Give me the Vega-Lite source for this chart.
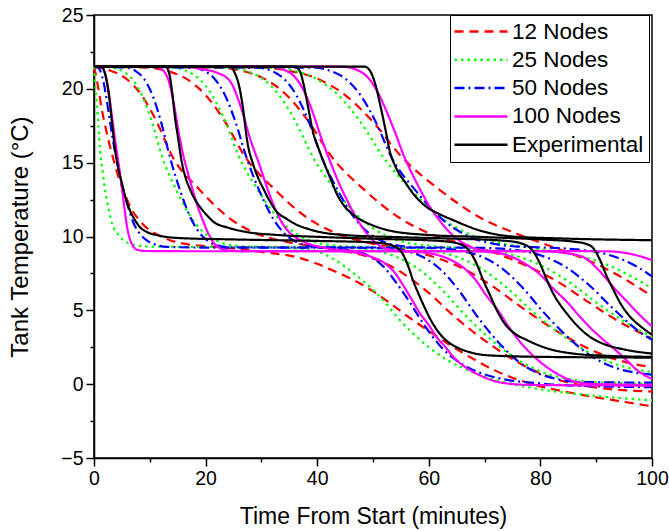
{
"$schema":"https://vega.github.io/schema/vega-lite/v6.json",
"width":558,"height":443,"autosize":{"type":"none"},
"padding":{"left":94,"top":15,"right":17,"bottom":73},
"background":"white",
"config":{"view":{"stroke":"black","strokeWidth":1.5},
"axis":{"labelFont":"Liberation Sans","titleFont":"Liberation Sans","labelColor":"black","titleColor":"black","tickColor":"black","domainColor":"black","domainWidth":1.5,"tickWidth":1.5,"grid":false,"titleFontWeight":"normal"}},
"data":{"values":[
{"n":"12 Nodes","r":0,"t":0,"v":21.5},{"n":"12 Nodes","r":0,"t":0.3,"v":21.0},{"n":"12 Nodes","r":0,"t":0.8,"v":20.0},{"n":"12 Nodes","r":0,"t":1.4,"v":18.6},{"n":"12 Nodes","r":0,"t":2.0,"v":17.5},{"n":"12 Nodes","r":0,"t":2.6,"v":16.5},{"n":"12 Nodes","r":0,"t":3.5,"v":15.2},{"n":"12 Nodes","r":0,"t":4.4,"v":14.0},{"n":"12 Nodes","r":0,"t":5.4,"v":13.0},{"n":"12 Nodes","r":0,"t":6.5,"v":12.0},{"n":"12 Nodes","r":0,"t":7.9,"v":11.2},{"n":"12 Nodes","r":0,"t":9.4,"v":10.6},{"n":"12 Nodes","r":0,"t":11.5,"v":10.1},{"n":"12 Nodes","r":0,"t":13.6,"v":9.75},{"n":"12 Nodes","r":0,"t":17.2,"v":9.45},{"n":"12 Nodes","r":0,"t":22,"v":9.3},{"n":"12 Nodes","r":0,"t":26,"v":9.15},{"n":"12 Nodes","r":0,"t":30,"v":8.95},{"n":"12 Nodes","r":0,"t":35.7,"v":8.65},{"n":"12 Nodes","r":0,"t":40,"v":8.15},{"n":"12 Nodes","r":0,"t":42.8,"v":7.7},{"n":"12 Nodes","r":0,"t":46,"v":7.15},{"n":"12 Nodes","r":0,"t":50,"v":6.3},{"n":"12 Nodes","r":0,"t":53,"v":5.5},{"n":"12 Nodes","r":0,"t":56,"v":4.65},{"n":"12 Nodes","r":0,"t":60,"v":3.6},{"n":"12 Nodes","r":0,"t":64,"v":2.6},{"n":"12 Nodes","r":0,"t":68,"v":1.7},{"n":"12 Nodes","r":0,"t":72,"v":0.9},{"n":"12 Nodes","r":0,"t":76,"v":0.3},{"n":"12 Nodes","r":0,"t":80,"v":-0.15},{"n":"12 Nodes","r":0,"t":85,"v":-0.55},{"n":"12 Nodes","r":0,"t":90,"v":-0.9},{"n":"12 Nodes","r":0,"t":95,"v":-1.2},{"n":"12 Nodes","r":0,"t":100,"v":-1.5},
{"n":"12 Nodes","r":1,"t":0,"v":21.48},{"n":"12 Nodes","r":1,"t":3,"v":21.22},{"n":"12 Nodes","r":1,"t":5.75,"v":20.69},{"n":"12 Nodes","r":1,"t":8.5,"v":19.58},{"n":"12 Nodes","r":1,"t":11.25,"v":17.76},{"n":"12 Nodes","r":1,"t":14,"v":15.45},{"n":"12 Nodes","r":1,"t":19,"v":13.14},{"n":"12 Nodes","r":1,"t":24,"v":11.32},{"n":"12 Nodes","r":1,"t":29,"v":10.21},{"n":"12 Nodes","r":1,"t":34,"v":9.68},{"n":"12 Nodes","r":1,"t":39,"v":9.35},{"n":"12 Nodes","r":1,"t":43,"v":9.1},{"n":"12 Nodes","r":1,"t":48.5,"v":8.7},{"n":"12 Nodes","r":1,"t":54,"v":7.83},{"n":"12 Nodes","r":1,"t":59.5,"v":6.34},{"n":"12 Nodes","r":1,"t":65,"v":4.45},{"n":"12 Nodes","r":1,"t":71.5,"v":2.56},{"n":"12 Nodes","r":1,"t":78,"v":1.07},{"n":"12 Nodes","r":1,"t":84.5,"v":0.16},{"n":"12 Nodes","r":1,"t":91,"v":-0.27},{"n":"12 Nodes","r":1,"t":100,"v":-0.5},
{"n":"12 Nodes","r":2,"t":0,"v":21.5},{"n":"12 Nodes","r":2,"t":9.5,"v":21.43},{"n":"12 Nodes","r":2,"t":13,"v":21.22},{"n":"12 Nodes","r":2,"t":16.5,"v":20.69},{"n":"12 Nodes","r":2,"t":20,"v":19.58},{"n":"12 Nodes","r":2,"t":23.5,"v":17.76},{"n":"12 Nodes","r":2,"t":27,"v":15.45},{"n":"12 Nodes","r":2,"t":32.5,"v":13.14},{"n":"12 Nodes","r":2,"t":38,"v":11.32},{"n":"12 Nodes","r":2,"t":43.5,"v":10.21},{"n":"12 Nodes","r":2,"t":49,"v":9.6},{"n":"12 Nodes","r":2,"t":54.5,"v":9.2},{"n":"12 Nodes","r":2,"t":59,"v":8.82},{"n":"12 Nodes","r":2,"t":65,"v":8.03},{"n":"12 Nodes","r":2,"t":71,"v":6.74},{"n":"12 Nodes","r":2,"t":77,"v":5.1},{"n":"12 Nodes","r":2,"t":83.5,"v":3.46},{"n":"12 Nodes","r":2,"t":90,"v":2.17},{"n":"12 Nodes","r":2,"t":96.5,"v":1.38},{"n":"12 Nodes","r":2,"t":100,"v":1.15},
{"n":"12 Nodes","r":3,"t":0,"v":21.5},{"n":"12 Nodes","r":3,"t":22.5,"v":21.43},{"n":"12 Nodes","r":3,"t":26.5,"v":21.22},{"n":"12 Nodes","r":3,"t":30.5,"v":20.69},{"n":"12 Nodes","r":3,"t":34.5,"v":19.58},{"n":"12 Nodes","r":3,"t":38.5,"v":17.76},{"n":"12 Nodes","r":3,"t":42.5,"v":15.45},{"n":"12 Nodes","r":3,"t":48.5,"v":13.14},{"n":"12 Nodes","r":3,"t":54.5,"v":11.32},{"n":"12 Nodes","r":3,"t":60.5,"v":10.15},{"n":"12 Nodes","r":3,"t":66.5,"v":9.45},{"n":"12 Nodes","r":3,"t":72.5,"v":8.8},{"n":"12 Nodes","r":3,"t":77,"v":8.1},{"n":"12 Nodes","r":3,"t":83,"v":6.96},{"n":"12 Nodes","r":3,"t":89,"v":5.45},{"n":"12 Nodes","r":3,"t":95.5,"v":3.94},{"n":"12 Nodes","r":3,"t":100,"v":3.1},
{"n":"12 Nodes","r":4,"t":0,"v":21.5},{"n":"12 Nodes","r":4,"t":30,"v":21.43},{"n":"12 Nodes","r":4,"t":35,"v":21.22},{"n":"12 Nodes","r":4,"t":40,"v":20.69},{"n":"12 Nodes","r":4,"t":45,"v":19.58},{"n":"12 Nodes","r":4,"t":50,"v":17.76},{"n":"12 Nodes","r":4,"t":55,"v":15.45},{"n":"12 Nodes","r":4,"t":62,"v":13.14},{"n":"12 Nodes","r":4,"t":69,"v":11.32},{"n":"12 Nodes","r":4,"t":76,"v":10.15},{"n":"12 Nodes","r":4,"t":83,"v":9.18},{"n":"12 Nodes","r":4,"t":88,"v":8.47},{"n":"12 Nodes","r":4,"t":92,"v":7.77},{"n":"12 Nodes","r":4,"t":96,"v":6.92},{"n":"12 Nodes","r":4,"t":100,"v":5.95},
{"n":"25 Nodes","r":0,"t":0,"v":21.5},{"n":"25 Nodes","r":0,"t":0.15,"v":20.6},{"n":"25 Nodes","r":0,"t":0.48,"v":19.2},{"n":"25 Nodes","r":0,"t":0.8,"v":17.4},{"n":"25 Nodes","r":0,"t":1.1,"v":15.8},{"n":"25 Nodes","r":0,"t":1.55,"v":14.4},{"n":"25 Nodes","r":0,"t":2.0,"v":13.1},{"n":"25 Nodes","r":0,"t":2.6,"v":11.9},{"n":"25 Nodes","r":0,"t":3.2,"v":10.9},{"n":"25 Nodes","r":0,"t":4.2,"v":10.2},{"n":"25 Nodes","r":0,"t":5.26,"v":9.75},{"n":"25 Nodes","r":0,"t":7.6,"v":9.4},{"n":"25 Nodes","r":0,"t":10,"v":9.32},{"n":"25 Nodes","r":0,"t":20,"v":9.3},{"n":"25 Nodes","r":0,"t":30,"v":9.28},{"n":"25 Nodes","r":0,"t":36,"v":9.2},{"n":"25 Nodes","r":0,"t":39.9,"v":9.0},{"n":"25 Nodes","r":0,"t":42.8,"v":8.5},{"n":"25 Nodes","r":0,"t":45.9,"v":7.7},{"n":"25 Nodes","r":0,"t":48.8,"v":6.8},{"n":"25 Nodes","r":0,"t":51.8,"v":5.7},{"n":"25 Nodes","r":0,"t":54.2,"v":4.6},{"n":"25 Nodes","r":0,"t":57,"v":3.5},{"n":"25 Nodes","r":0,"t":60,"v":2.5},{"n":"25 Nodes","r":0,"t":63,"v":1.7},{"n":"25 Nodes","r":0,"t":66,"v":1.1},{"n":"25 Nodes","r":0,"t":70,"v":0.5},{"n":"25 Nodes","r":0,"t":75,"v":0.0},{"n":"25 Nodes","r":0,"t":80,"v":-0.35},{"n":"25 Nodes","r":0,"t":90,"v":-0.8},{"n":"25 Nodes","r":0,"t":100,"v":-1.1},
{"n":"25 Nodes","r":1,"t":0,"v":21.5},{"n":"25 Nodes","r":1,"t":3.2,"v":21.43},{"n":"25 Nodes","r":1,"t":5.0,"v":21.22},{"n":"25 Nodes","r":1,"t":6.8,"v":20.68},{"n":"25 Nodes","r":1,"t":8.6,"v":19.56},{"n":"25 Nodes","r":1,"t":10.4,"v":17.73},{"n":"25 Nodes","r":1,"t":12.2,"v":15.4},{"n":"25 Nodes","r":1,"t":14.85,"v":13.07},{"n":"25 Nodes","r":1,"t":17.5,"v":11.24},{"n":"25 Nodes","r":1,"t":20.15,"v":10.12},{"n":"25 Nodes","r":1,"t":22.8,"v":9.58},{"n":"25 Nodes","r":1,"t":25.45,"v":9.37},{"n":"25 Nodes","r":1,"t":28.1,"v":9.31},{"n":"25 Nodes","r":1,"t":40,"v":9.3},{"n":"25 Nodes","r":1,"t":45.25,"v":9.24},{"n":"25 Nodes","r":1,"t":49.5,"v":9.09},{"n":"25 Nodes","r":1,"t":53.75,"v":8.68},{"n":"25 Nodes","r":1,"t":58,"v":7.83},{"n":"25 Nodes","r":1,"t":62.25,"v":6.44},{"n":"25 Nodes","r":1,"t":66.5,"v":4.68},{"n":"25 Nodes","r":1,"t":71.5,"v":2.91},{"n":"25 Nodes","r":1,"t":76.5,"v":1.52},{"n":"25 Nodes","r":1,"t":81.5,"v":0.67},{"n":"25 Nodes","r":1,"t":86.5,"v":0.26},{"n":"25 Nodes","r":1,"t":91.5,"v":0.11},{"n":"25 Nodes","r":1,"t":100,"v":0.05},
{"n":"25 Nodes","r":2,"t":0,"v":21.5},{"n":"25 Nodes","r":2,"t":14,"v":21.43},{"n":"25 Nodes","r":2,"t":16.4,"v":21.22},{"n":"25 Nodes","r":2,"t":18.8,"v":20.68},{"n":"25 Nodes","r":2,"t":21.2,"v":19.56},{"n":"25 Nodes","r":2,"t":23.6,"v":17.73},{"n":"25 Nodes","r":2,"t":26,"v":15.4},{"n":"25 Nodes","r":2,"t":29.5,"v":13.07},{"n":"25 Nodes","r":2,"t":33,"v":11.24},{"n":"25 Nodes","r":2,"t":36.5,"v":10.12},{"n":"25 Nodes","r":2,"t":40,"v":9.58},{"n":"25 Nodes","r":2,"t":43.5,"v":9.37},{"n":"25 Nodes","r":2,"t":47,"v":9.31},{"n":"25 Nodes","r":2,"t":54.75,"v":9.25},{"n":"25 Nodes","r":2,"t":59.5,"v":9.1},{"n":"25 Nodes","r":2,"t":64.25,"v":8.72},{"n":"25 Nodes","r":2,"t":69,"v":7.92},{"n":"25 Nodes","r":2,"t":73.75,"v":6.61},{"n":"25 Nodes","r":2,"t":78.5,"v":4.95},{"n":"25 Nodes","r":2,"t":84,"v":3.29},{"n":"25 Nodes","r":2,"t":89.5,"v":1.98},{"n":"25 Nodes","r":2,"t":95,"v":1.18},{"n":"25 Nodes","r":2,"t":100,"v":0.82},
{"n":"25 Nodes","r":3,"t":0,"v":21.5},{"n":"25 Nodes","r":3,"t":24.2,"v":21.43},{"n":"25 Nodes","r":3,"t":27.2,"v":21.22},{"n":"25 Nodes","r":3,"t":30.2,"v":20.68},{"n":"25 Nodes","r":3,"t":33.2,"v":19.56},{"n":"25 Nodes","r":3,"t":36.2,"v":17.73},{"n":"25 Nodes","r":3,"t":39.2,"v":15.4},{"n":"25 Nodes","r":3,"t":43.45,"v":13.07},{"n":"25 Nodes","r":3,"t":47.7,"v":11.24},{"n":"25 Nodes","r":3,"t":51.95,"v":10.12},{"n":"25 Nodes","r":3,"t":56.2,"v":9.58},{"n":"25 Nodes","r":3,"t":60.45,"v":9.37},{"n":"25 Nodes","r":3,"t":64.5,"v":9.25},{"n":"25 Nodes","r":3,"t":69.5,"v":9.1},{"n":"25 Nodes","r":3,"t":74.75,"v":8.78},{"n":"25 Nodes","r":3,"t":80,"v":8.06},{"n":"25 Nodes","r":3,"t":85.25,"v":6.89},{"n":"25 Nodes","r":3,"t":90.5,"v":5.4},{"n":"25 Nodes","r":3,"t":96.5,"v":3.91},{"n":"25 Nodes","r":3,"t":100,"v":3.18},
{"n":"25 Nodes","r":4,"t":0,"v":21.5},{"n":"25 Nodes","r":4,"t":31.8,"v":21.43},{"n":"25 Nodes","r":4,"t":35.8,"v":21.22},{"n":"25 Nodes","r":4,"t":39.8,"v":20.68},{"n":"25 Nodes","r":4,"t":43.8,"v":19.56},{"n":"25 Nodes","r":4,"t":47.8,"v":17.73},{"n":"25 Nodes","r":4,"t":51.8,"v":15.4},{"n":"25 Nodes","r":4,"t":57.05,"v":13.07},{"n":"25 Nodes","r":4,"t":62.3,"v":11.24},{"n":"25 Nodes","r":4,"t":67.55,"v":10.12},{"n":"25 Nodes","r":4,"t":72.8,"v":9.55},{"n":"25 Nodes","r":4,"t":78.05,"v":9.24},{"n":"25 Nodes","r":4,"t":83.3,"v":8.96},{"n":"25 Nodes","r":4,"t":88,"v":8.59},{"n":"25 Nodes","r":4,"t":92,"v":8.08},{"n":"25 Nodes","r":4,"t":96,"v":7.36},{"n":"25 Nodes","r":4,"t":100,"v":6.49},
{"n":"50 Nodes","r":0,"t":0,"v":21.5},{"n":"50 Nodes","r":0,"t":0.8,"v":21.4},{"n":"50 Nodes","r":0,"t":1.5,"v":20.8},{"n":"50 Nodes","r":0,"t":2.3,"v":19.2},{"n":"50 Nodes","r":0,"t":2.9,"v":17.7},{"n":"50 Nodes","r":0,"t":3.5,"v":16.3},{"n":"50 Nodes","r":0,"t":4.4,"v":14.6},{"n":"50 Nodes","r":0,"t":5.26,"v":13.1},{"n":"50 Nodes","r":0,"t":6.2,"v":11.9},{"n":"50 Nodes","r":0,"t":7.1,"v":10.9},{"n":"50 Nodes","r":0,"t":8.2,"v":10.2},{"n":"50 Nodes","r":0,"t":9.4,"v":9.75},{"n":"50 Nodes","r":0,"t":11,"v":9.45},{"n":"50 Nodes","r":0,"t":13,"v":9.3},{"n":"50 Nodes","r":0,"t":20,"v":9.25},{"n":"50 Nodes","r":0,"t":40,"v":9.25},{"n":"50 Nodes","r":0,"t":44,"v":9.15},{"n":"50 Nodes","r":0,"t":48.3,"v":8.85},{"n":"50 Nodes","r":0,"t":51.9,"v":7.95},{"n":"50 Nodes","r":0,"t":54.3,"v":6.8},{"n":"50 Nodes","r":0,"t":56.5,"v":5.6},{"n":"50 Nodes","r":0,"t":58.5,"v":4.4},{"n":"50 Nodes","r":0,"t":60.5,"v":3.3},{"n":"50 Nodes","r":0,"t":62.5,"v":2.4},{"n":"50 Nodes","r":0,"t":65,"v":1.6},{"n":"50 Nodes","r":0,"t":68,"v":0.95},{"n":"50 Nodes","r":0,"t":72,"v":0.45},{"n":"50 Nodes","r":0,"t":80,"v":0.05},{"n":"50 Nodes","r":0,"t":90,"v":-0.15},{"n":"50 Nodes","r":0,"t":100,"v":-0.2},
{"n":"50 Nodes","r":1,"t":0,"v":21.5},{"n":"50 Nodes","r":1,"t":5.85,"v":21.43},{"n":"50 Nodes","r":1,"t":7.4,"v":21.22},{"n":"50 Nodes","r":1,"t":8.95,"v":20.68},{"n":"50 Nodes","r":1,"t":10.5,"v":19.55},{"n":"50 Nodes","r":1,"t":12.05,"v":17.71},{"n":"50 Nodes","r":1,"t":13.6,"v":15.38},{"n":"50 Nodes","r":1,"t":15.5,"v":13.04},{"n":"50 Nodes","r":1,"t":17.4,"v":11.2},{"n":"50 Nodes","r":1,"t":19.3,"v":10.07},{"n":"50 Nodes","r":1,"t":21.2,"v":9.53},{"n":"50 Nodes","r":1,"t":23.1,"v":9.32},{"n":"50 Nodes","r":1,"t":25,"v":9.26},{"n":"50 Nodes","r":1,"t":45,"v":9.25},{"n":"50 Nodes","r":1,"t":52.25,"v":9.2},{"n":"50 Nodes","r":1,"t":55.5,"v":9.04},{"n":"50 Nodes","r":1,"t":58.75,"v":8.64},{"n":"50 Nodes","r":1,"t":62,"v":7.8},{"n":"50 Nodes","r":1,"t":65.25,"v":6.42},{"n":"50 Nodes","r":1,"t":68.5,"v":4.68},{"n":"50 Nodes","r":1,"t":72.25,"v":2.93},{"n":"50 Nodes","r":1,"t":76,"v":1.55},{"n":"50 Nodes","r":1,"t":79.75,"v":0.71},{"n":"50 Nodes","r":1,"t":83.5,"v":0.31},{"n":"50 Nodes","r":1,"t":87.25,"v":0.15},{"n":"50 Nodes","r":1,"t":100,"v":0.1},
{"n":"50 Nodes","r":2,"t":0,"v":21.5},{"n":"50 Nodes","r":2,"t":17.8,"v":21.43},{"n":"50 Nodes","r":2,"t":19.7,"v":21.22},{"n":"50 Nodes","r":2,"t":21.6,"v":20.68},{"n":"50 Nodes","r":2,"t":23.5,"v":19.55},{"n":"50 Nodes","r":2,"t":25.4,"v":17.71},{"n":"50 Nodes","r":2,"t":27.3,"v":15.38},{"n":"50 Nodes","r":2,"t":29.7,"v":13.04},{"n":"50 Nodes","r":2,"t":32.1,"v":11.2},{"n":"50 Nodes","r":2,"t":34.5,"v":10.07},{"n":"50 Nodes","r":2,"t":36.9,"v":9.53},{"n":"50 Nodes","r":2,"t":39.3,"v":9.32},{"n":"50 Nodes","r":2,"t":41.7,"v":9.26},{"n":"50 Nodes","r":2,"t":55,"v":9.25},{"n":"50 Nodes","r":2,"t":61.75,"v":9.2},{"n":"50 Nodes","r":2,"t":65.5,"v":9.05},{"n":"50 Nodes","r":2,"t":69.25,"v":8.67},{"n":"50 Nodes","r":2,"t":73,"v":7.87},{"n":"50 Nodes","r":2,"t":76.75,"v":6.56},{"n":"50 Nodes","r":2,"t":80.5,"v":4.9},{"n":"50 Nodes","r":2,"t":84.75,"v":3.24},{"n":"50 Nodes","r":2,"t":89,"v":1.93},{"n":"50 Nodes","r":2,"t":93.25,"v":1.13},{"n":"50 Nodes","r":2,"t":97.5,"v":0.75},{"n":"50 Nodes","r":2,"t":100,"v":0.65},
{"n":"50 Nodes","r":3,"t":0,"v":21.5},{"n":"50 Nodes","r":3,"t":29.55,"v":21.43},{"n":"50 Nodes","r":3,"t":31.8,"v":21.22},{"n":"50 Nodes","r":3,"t":34.05,"v":20.68},{"n":"50 Nodes","r":3,"t":36.3,"v":19.55},{"n":"50 Nodes","r":3,"t":38.55,"v":17.71},{"n":"50 Nodes","r":3,"t":40.8,"v":15.38},{"n":"50 Nodes","r":3,"t":43.8,"v":13.04},{"n":"50 Nodes","r":3,"t":46.8,"v":11.2},{"n":"50 Nodes","r":3,"t":49.8,"v":10.07},{"n":"50 Nodes","r":3,"t":52.8,"v":9.53},{"n":"50 Nodes","r":3,"t":55.8,"v":9.32},{"n":"50 Nodes","r":3,"t":58.8,"v":9.26},{"n":"50 Nodes","r":3,"t":66,"v":9.25},{"n":"50 Nodes","r":3,"t":71.75,"v":9.2},{"n":"50 Nodes","r":3,"t":76,"v":9.06},{"n":"50 Nodes","r":3,"t":80.25,"v":8.7},{"n":"50 Nodes","r":3,"t":84.5,"v":7.94},{"n":"50 Nodes","r":3,"t":88.75,"v":6.7},{"n":"50 Nodes","r":3,"t":93,"v":5.13},{"n":"50 Nodes","r":3,"t":97.75,"v":3.55},{"n":"50 Nodes","r":3,"t":100,"v":3.0},
{"n":"50 Nodes","r":4,"t":0,"v":21.5},{"n":"50 Nodes","r":4,"t":39.55,"v":21.43},{"n":"50 Nodes","r":4,"t":42.3,"v":21.22},{"n":"50 Nodes","r":4,"t":45.05,"v":20.68},{"n":"50 Nodes","r":4,"t":47.8,"v":19.55},{"n":"50 Nodes","r":4,"t":50.55,"v":17.71},{"n":"50 Nodes","r":4,"t":53.3,"v":15.38},{"n":"50 Nodes","r":4,"t":57.8,"v":13.04},{"n":"50 Nodes","r":4,"t":62.3,"v":11.2},{"n":"50 Nodes","r":4,"t":66.8,"v":10.07},{"n":"50 Nodes","r":4,"t":71.3,"v":9.53},{"n":"50 Nodes","r":4,"t":75.8,"v":9.32},{"n":"50 Nodes","r":4,"t":80.3,"v":9.26},{"n":"50 Nodes","r":4,"t":85,"v":9.17},{"n":"50 Nodes","r":4,"t":90,"v":8.96},{"n":"50 Nodes","r":4,"t":94,"v":8.54},{"n":"50 Nodes","r":4,"t":97,"v":8.02},{"n":"50 Nodes","r":4,"t":100,"v":7.3},
{"n":"100 Nodes","r":0,"t":0,"v":21.5},{"n":"100 Nodes","r":0,"t":1.3,"v":21.5},{"n":"100 Nodes","r":0,"t":2.0,"v":21.0},{"n":"100 Nodes","r":0,"t":2.7,"v":19.6},{"n":"100 Nodes","r":0,"t":3.4,"v":17.6},{"n":"100 Nodes","r":0,"t":4.06,"v":15.8},{"n":"100 Nodes","r":0,"t":4.5,"v":14.7},{"n":"100 Nodes","r":0,"t":5.0,"v":13.3},{"n":"100 Nodes","r":0,"t":5.56,"v":11.6},{"n":"100 Nodes","r":0,"t":6.0,"v":10.5},{"n":"100 Nodes","r":0,"t":6.5,"v":9.75},{"n":"100 Nodes","r":0,"t":7.0,"v":9.35},{"n":"100 Nodes","r":0,"t":7.6,"v":9.12},{"n":"100 Nodes","r":0,"t":9,"v":9.02},{"n":"100 Nodes","r":0,"t":20,"v":9.0},{"n":"100 Nodes","r":0,"t":44,"v":9.0},{"n":"100 Nodes","r":0,"t":47,"v":8.9},{"n":"100 Nodes","r":0,"t":49.5,"v":8.65},{"n":"100 Nodes","r":0,"t":52.4,"v":8.1},{"n":"100 Nodes","r":0,"t":54,"v":7.5},{"n":"100 Nodes","r":0,"t":55.4,"v":6.7},{"n":"100 Nodes","r":0,"t":57,"v":5.7},{"n":"100 Nodes","r":0,"t":58.4,"v":4.8},{"n":"100 Nodes","r":0,"t":60,"v":4.0},{"n":"100 Nodes","r":0,"t":61.4,"v":3.2},{"n":"100 Nodes","r":0,"t":63,"v":2.5},{"n":"100 Nodes","r":0,"t":64.4,"v":1.85},{"n":"100 Nodes","r":0,"t":66,"v":1.3},{"n":"100 Nodes","r":0,"t":67.4,"v":0.95},{"n":"100 Nodes","r":0,"t":70,"v":0.45},{"n":"100 Nodes","r":0,"t":73.4,"v":0.08},{"n":"100 Nodes","r":0,"t":78,"v":-0.05},{"n":"100 Nodes","r":0,"t":100,"v":-0.1},
{"n":"100 Nodes","r":1,"t":0,"v":21.5},{"n":"100 Nodes","r":1,"t":11,"v":21.5},{"n":"100 Nodes","r":1,"t":12.5,"v":21.2},{"n":"100 Nodes","r":1,"t":13.5,"v":20.4},{"n":"100 Nodes","r":1,"t":14.4,"v":18.8},{"n":"100 Nodes","r":1,"t":15.2,"v":17.0},{"n":"100 Nodes","r":1,"t":16.0,"v":15.5},{"n":"100 Nodes","r":1,"t":16.9,"v":14.2},{"n":"100 Nodes","r":1,"t":17.8,"v":13.0},{"n":"100 Nodes","r":1,"t":18.7,"v":11.9},{"n":"100 Nodes","r":1,"t":19.6,"v":11.0},{"n":"100 Nodes","r":1,"t":20.5,"v":10.2},{"n":"100 Nodes","r":1,"t":21.4,"v":9.6},{"n":"100 Nodes","r":1,"t":22.4,"v":9.25},{"n":"100 Nodes","r":1,"t":23.6,"v":9.08},{"n":"100 Nodes","r":1,"t":25.5,"v":9.01},{"n":"100 Nodes","r":1,"t":30,"v":9.0},{"n":"100 Nodes","r":1,"t":54,"v":9.0},{"n":"100 Nodes","r":1,"t":58,"v":8.95},{"n":"100 Nodes","r":1,"t":61,"v":8.8},{"n":"100 Nodes","r":1,"t":64,"v":8.4},{"n":"100 Nodes","r":1,"t":66.5,"v":7.8},{"n":"100 Nodes","r":1,"t":68.5,"v":7.0},{"n":"100 Nodes","r":1,"t":70.3,"v":6.0},{"n":"100 Nodes","r":1,"t":72.2,"v":5.1},{"n":"100 Nodes","r":1,"t":74.3,"v":3.9},{"n":"100 Nodes","r":1,"t":76.5,"v":2.8},{"n":"100 Nodes","r":1,"t":78.5,"v":2.0},{"n":"100 Nodes","r":1,"t":81,"v":1.2},{"n":"100 Nodes","r":1,"t":83.5,"v":0.6},{"n":"100 Nodes","r":1,"t":86,"v":0.2},{"n":"100 Nodes","r":1,"t":90,"v":0.0},{"n":"100 Nodes","r":1,"t":100,"v":-0.05},
{"n":"100 Nodes","r":2,"t":0,"v":21.5},{"n":"100 Nodes","r":2,"t":17,"v":21.5},{"n":"100 Nodes","r":2,"t":19,"v":21.35},{"n":"100 Nodes","r":2,"t":22,"v":21.1},{"n":"100 Nodes","r":2,"t":24.4,"v":20.5},{"n":"100 Nodes","r":2,"t":26.2,"v":18.9},{"n":"100 Nodes","r":2,"t":28.0,"v":16.6},{"n":"100 Nodes","r":2,"t":29.7,"v":14.8},{"n":"100 Nodes","r":2,"t":31.5,"v":12.8},{"n":"100 Nodes","r":2,"t":33.3,"v":11.2},{"n":"100 Nodes","r":2,"t":34.5,"v":10.5},{"n":"100 Nodes","r":2,"t":35.7,"v":10.05},{"n":"100 Nodes","r":2,"t":37,"v":9.75},{"n":"100 Nodes","r":2,"t":38.5,"v":9.5},{"n":"100 Nodes","r":2,"t":40.5,"v":9.3},{"n":"100 Nodes","r":2,"t":43,"v":9.12},{"n":"100 Nodes","r":2,"t":46,"v":9.04},{"n":"100 Nodes","r":2,"t":50,"v":9.0},{"n":"100 Nodes","r":2,"t":68,"v":9.0},{"n":"100 Nodes","r":2,"t":72,"v":8.9},{"n":"100 Nodes","r":2,"t":75,"v":8.6},{"n":"100 Nodes","r":2,"t":77.5,"v":8.1},{"n":"100 Nodes","r":2,"t":80,"v":7.4},{"n":"100 Nodes","r":2,"t":82.5,"v":6.4},{"n":"100 Nodes","r":2,"t":84.7,"v":5.6},{"n":"100 Nodes","r":2,"t":87,"v":4.6},{"n":"100 Nodes","r":2,"t":89,"v":3.8},{"n":"100 Nodes","r":2,"t":91,"v":3.1},{"n":"100 Nodes","r":2,"t":93.2,"v":2.4},{"n":"100 Nodes","r":2,"t":95.5,"v":1.6},{"n":"100 Nodes","r":2,"t":97.5,"v":0.9},{"n":"100 Nodes","r":2,"t":100,"v":0.35},
{"n":"100 Nodes","r":3,"t":0,"v":21.5},{"n":"100 Nodes","r":3,"t":32,"v":21.5},{"n":"100 Nodes","r":3,"t":34,"v":21.3},{"n":"100 Nodes","r":3,"t":36,"v":20.8},{"n":"100 Nodes","r":3,"t":37.7,"v":19.8},{"n":"100 Nodes","r":3,"t":39.3,"v":18.3},{"n":"100 Nodes","r":3,"t":40.8,"v":16.6},{"n":"100 Nodes","r":3,"t":42.3,"v":15.1},{"n":"100 Nodes","r":3,"t":43.8,"v":13.7},{"n":"100 Nodes","r":3,"t":45.3,"v":12.5},{"n":"100 Nodes","r":3,"t":46.8,"v":11.4},{"n":"100 Nodes","r":3,"t":48.3,"v":10.5},{"n":"100 Nodes","r":3,"t":49.8,"v":9.8},{"n":"100 Nodes","r":3,"t":51.3,"v":9.35},{"n":"100 Nodes","r":3,"t":53,"v":9.12},{"n":"100 Nodes","r":3,"t":55,"v":9.03},{"n":"100 Nodes","r":3,"t":58,"v":9.0},{"n":"100 Nodes","r":3,"t":80,"v":9.0},{"n":"100 Nodes","r":3,"t":84,"v":8.9},{"n":"100 Nodes","r":3,"t":87.7,"v":8.6},{"n":"100 Nodes","r":3,"t":90,"v":7.9},{"n":"100 Nodes","r":3,"t":91.9,"v":7.1},{"n":"100 Nodes","r":3,"t":93.5,"v":6.4},{"n":"100 Nodes","r":3,"t":95.5,"v":5.6},{"n":"100 Nodes","r":3,"t":97.5,"v":4.8},{"n":"100 Nodes","r":3,"t":100,"v":3.9},
{"n":"100 Nodes","r":4,"t":0,"v":21.5},{"n":"100 Nodes","r":4,"t":44.5,"v":21.5},{"n":"100 Nodes","r":4,"t":47,"v":21.3},{"n":"100 Nodes","r":4,"t":49,"v":20.8},{"n":"100 Nodes","r":4,"t":50.8,"v":19.8},{"n":"100 Nodes","r":4,"t":52.4,"v":18.5},{"n":"100 Nodes","r":4,"t":54,"v":17.0},{"n":"100 Nodes","r":4,"t":55.6,"v":15.4},{"n":"100 Nodes","r":4,"t":57.2,"v":14.1},{"n":"100 Nodes","r":4,"t":58.7,"v":13.0},{"n":"100 Nodes","r":4,"t":60.2,"v":12.0},{"n":"100 Nodes","r":4,"t":61.7,"v":11.2},{"n":"100 Nodes","r":4,"t":63.2,"v":10.5},{"n":"100 Nodes","r":4,"t":64.7,"v":9.95},{"n":"100 Nodes","r":4,"t":66.2,"v":9.55},{"n":"100 Nodes","r":4,"t":68,"v":9.22},{"n":"100 Nodes","r":4,"t":70,"v":9.07},{"n":"100 Nodes","r":4,"t":73,"v":9.01},{"n":"100 Nodes","r":4,"t":92,"v":9.0},{"n":"100 Nodes","r":4,"t":95,"v":8.9},{"n":"100 Nodes","r":4,"t":97.5,"v":8.7},{"n":"100 Nodes","r":4,"t":100,"v":8.4},
{"n":"Experimental","r":0,"t":0,"v":21.5},{"n":"Experimental","r":0,"t":1.3,"v":21.5},{"n":"Experimental","r":0,"t":2.0,"v":21.0},{"n":"Experimental","r":0,"t":2.6,"v":19.8},{"n":"Experimental","r":0,"t":3.2,"v":17.8},{"n":"Experimental","r":0,"t":3.8,"v":15.8},{"n":"Experimental","r":0,"t":4.3,"v":14.7},{"n":"Experimental","r":0,"t":5.0,"v":13.6},{"n":"Experimental","r":0,"t":5.6,"v":12.7},{"n":"Experimental","r":0,"t":6.4,"v":11.8},{"n":"Experimental","r":0,"t":7.2,"v":11.2},{"n":"Experimental","r":0,"t":8.2,"v":10.65},{"n":"Experimental","r":0,"t":9.5,"v":10.3},{"n":"Experimental","r":0,"t":11.2,"v":10.1},{"n":"Experimental","r":0,"t":15,"v":9.9},{"n":"Experimental","r":0,"t":25,"v":9.8},{"n":"Experimental","r":0,"t":40,"v":9.7},{"n":"Experimental","r":0,"t":50,"v":9.6},{"n":"Experimental","r":0,"t":53,"v":9.45},{"n":"Experimental","r":0,"t":55,"v":9.0},{"n":"Experimental","r":0,"t":56.3,"v":8.0},{"n":"Experimental","r":0,"t":57.2,"v":7.0},{"n":"Experimental","r":0,"t":58.3,"v":6.0},{"n":"Experimental","r":0,"t":59,"v":5.4},{"n":"Experimental","r":0,"t":60,"v":4.6},{"n":"Experimental","r":0,"t":61.4,"v":3.7},{"n":"Experimental","r":0,"t":63,"v":3.0},{"n":"Experimental","r":0,"t":65,"v":2.5},{"n":"Experimental","r":0,"t":67.5,"v":2.15},{"n":"Experimental","r":0,"t":70.4,"v":1.96},{"n":"Experimental","r":0,"t":80,"v":1.85},{"n":"Experimental","r":0,"t":100,"v":1.8},
{"n":"Experimental","r":1,"t":0,"v":21.5},{"n":"Experimental","r":1,"t":12.8,"v":21.5},{"n":"Experimental","r":1,"t":13.5,"v":21.0},{"n":"Experimental","r":1,"t":14.0,"v":19.8},{"n":"Experimental","r":1,"t":14.5,"v":18.1},{"n":"Experimental","r":1,"t":15.1,"v":16.6},{"n":"Experimental","r":1,"t":15.7,"v":15.1},{"n":"Experimental","r":1,"t":16.4,"v":14.0},{"n":"Experimental","r":1,"t":17.2,"v":13.2},{"n":"Experimental","r":1,"t":18.1,"v":12.5},{"n":"Experimental","r":1,"t":19,"v":12.0},{"n":"Experimental","r":1,"t":20.2,"v":11.45},{"n":"Experimental","r":1,"t":21.4,"v":11.0},{"n":"Experimental","r":1,"t":24,"v":10.6},{"n":"Experimental","r":1,"t":27.4,"v":10.3},{"n":"Experimental","r":1,"t":33,"v":10.1},{"n":"Experimental","r":1,"t":40.5,"v":9.97},{"n":"Experimental","r":1,"t":50,"v":9.85},{"n":"Experimental","r":1,"t":62,"v":9.7},{"n":"Experimental","r":1,"t":65.5,"v":9.5},{"n":"Experimental","r":1,"t":67.1,"v":9.1},{"n":"Experimental","r":1,"t":68.4,"v":8.3},{"n":"Experimental","r":1,"t":69.8,"v":7.0},{"n":"Experimental","r":1,"t":71,"v":6.0},{"n":"Experimental","r":1,"t":72.2,"v":5.0},{"n":"Experimental","r":1,"t":73.6,"v":4.1},{"n":"Experimental","r":1,"t":75.5,"v":3.4},{"n":"Experimental","r":1,"t":77.5,"v":3.0},{"n":"Experimental","r":1,"t":81,"v":2.45},{"n":"Experimental","r":1,"t":85.9,"v":2.07},{"n":"Experimental","r":1,"t":92,"v":1.92},{"n":"Experimental","r":1,"t":100,"v":1.85},
{"n":"Experimental","r":2,"t":0,"v":21.5},{"n":"Experimental","r":2,"t":24.4,"v":21.5},{"n":"Experimental","r":2,"t":25.2,"v":21.1},{"n":"Experimental","r":2,"t":26,"v":20.2},{"n":"Experimental","r":2,"t":26.7,"v":18.7},{"n":"Experimental","r":2,"t":27.4,"v":16.6},{"n":"Experimental","r":2,"t":28.6,"v":14.8},{"n":"Experimental","r":2,"t":29.5,"v":13.9},{"n":"Experimental","r":2,"t":30.4,"v":13.2},{"n":"Experimental","r":2,"t":31.5,"v":12.4},{"n":"Experimental","r":2,"t":32.7,"v":11.7},{"n":"Experimental","r":2,"t":34.5,"v":11.2},{"n":"Experimental","r":2,"t":36.3,"v":10.8},{"n":"Experimental","r":2,"t":38.5,"v":10.5},{"n":"Experimental","r":2,"t":40.5,"v":10.3},{"n":"Experimental","r":2,"t":45,"v":10.1},{"n":"Experimental","r":2,"t":55,"v":9.95},{"n":"Experimental","r":2,"t":65,"v":9.85},{"n":"Experimental","r":2,"t":74,"v":9.7},{"n":"Experimental","r":2,"t":77.2,"v":9.45},{"n":"Experimental","r":2,"t":78.7,"v":9.0},{"n":"Experimental","r":2,"t":80,"v":8.1},{"n":"Experimental","r":2,"t":81,"v":7.2},{"n":"Experimental","r":2,"t":81.7,"v":6.6},{"n":"Experimental","r":2,"t":82.5,"v":6.0},{"n":"Experimental","r":2,"t":83.5,"v":5.4},{"n":"Experimental","r":2,"t":84.7,"v":4.8},{"n":"Experimental","r":2,"t":86.5,"v":4.0},{"n":"Experimental","r":2,"t":88.9,"v":3.2},{"n":"Experimental","r":2,"t":91.5,"v":2.7},{"n":"Experimental","r":2,"t":95,"v":2.35},{"n":"Experimental","r":2,"t":100,"v":2.07},
{"n":"Experimental","r":3,"t":0,"v":21.5},{"n":"Experimental","r":3,"t":36,"v":21.5},{"n":"Experimental","r":3,"t":37,"v":21.1},{"n":"Experimental","r":3,"t":37.5,"v":20.4},{"n":"Experimental","r":3,"t":38.4,"v":18.7},{"n":"Experimental","r":3,"t":39.3,"v":17.0},{"n":"Experimental","r":3,"t":40.2,"v":16.0},{"n":"Experimental","r":3,"t":41.1,"v":15.1},{"n":"Experimental","r":3,"t":42.3,"v":14.0},{"n":"Experimental","r":3,"t":43.5,"v":12.9},{"n":"Experimental","r":3,"t":45,"v":12.0},{"n":"Experimental","r":3,"t":47.1,"v":11.3},{"n":"Experimental","r":3,"t":50,"v":10.75},{"n":"Experimental","r":3,"t":53,"v":10.4},{"n":"Experimental","r":3,"t":60,"v":10.1},{"n":"Experimental","r":3,"t":69.2,"v":9.97},{"n":"Experimental","r":3,"t":80,"v":9.8},{"n":"Experimental","r":3,"t":86,"v":9.65},{"n":"Experimental","r":3,"t":88.2,"v":9.5},{"n":"Experimental","r":3,"t":89.5,"v":9.2},{"n":"Experimental","r":3,"t":90.7,"v":8.4},{"n":"Experimental","r":3,"t":91.9,"v":7.3},{"n":"Experimental","r":3,"t":93.2,"v":6.3},{"n":"Experimental","r":3,"t":94.3,"v":5.5},{"n":"Experimental","r":3,"t":96,"v":4.6},{"n":"Experimental","r":3,"t":98,"v":3.9},{"n":"Experimental","r":3,"t":100,"v":3.35},
{"n":"Experimental","r":4,"t":0,"v":21.5},{"n":"Experimental","r":4,"t":48.5,"v":21.5},{"n":"Experimental","r":4,"t":49.5,"v":21.2},{"n":"Experimental","r":4,"t":50.5,"v":20.2},{"n":"Experimental","r":4,"t":51.3,"v":18.9},{"n":"Experimental","r":4,"t":52.2,"v":17.3},{"n":"Experimental","r":4,"t":53,"v":15.8},{"n":"Experimental","r":4,"t":54.2,"v":14.6},{"n":"Experimental","r":4,"t":55.9,"v":13.6},{"n":"Experimental","r":4,"t":57.2,"v":12.9},{"n":"Experimental","r":4,"t":59.6,"v":12.0},{"n":"Experimental","r":4,"t":62,"v":11.5},{"n":"Experimental","r":4,"t":64.4,"v":11.1},{"n":"Experimental","r":4,"t":69.2,"v":10.4},{"n":"Experimental","r":4,"t":75,"v":10.0},{"n":"Experimental","r":4,"t":83.5,"v":9.87},{"n":"Experimental","r":4,"t":100,"v":9.75}
]},
"layer":[
{"mark":{"type":"line","interpolate":"monotone","strokeWidth":2.2},
"encoding":{
"x":{"field":"t","type":"quantitative","scale":{"domain":[0,100],"nice":false,"zero":false},
"axis":{"orient":"bottom","values":[0,20,40,60,80,100],"labelFontSize":19.5,"tickSize":8,"labelPadding":3,"labelFlush":false,"title":"Time From Start (minutes)","titleFontSize":23,"titlePadding":18}},
"y":{"field":"v","type":"quantitative","scale":{"domain":[-5,25],"nice":false,"zero":false},
"axis":{"orient":"left","values":[-5,0,5,10,15,20,25],"labelFontSize":19.5,"tickSize":8,"labelPadding":3,"labelFlush":false,"title":"Tank Temperature (°C)","titleFontSize":24,"titlePadding":28}},
"color":{"field":"n","type":"nominal","scale":{"domain":["12 Nodes","25 Nodes","50 Nodes","100 Nodes","Experimental"],"range":["#ff0000","#00ff00","#0000ff","#ff00ff","#000000"]},
"legend":{"title":null,"orient":"none","legendX":356,"legendY":0,"symbolType":"M-2.65,0H2.65","symbolSize":400,"symbolOffset":14.5,"symbolStrokeWidth":2.5,"labelFontSize":22.5,"labelFont":"Liberation Sans","labelColor":"black","strokeColor":"black","fillColor":"white","padding":5,"rowPadding":5.3,"labelOffset":19.5,"labelLimit":300}},
"strokeDash":{"field":"n","type":"nominal","scale":{"domain":["12 Nodes","25 Nodes","50 Nodes","100 Nodes","Experimental"],"range":[[9,6],[2.5,4],[10,4,2,4],[1,0],[1,0]]},
"legend":{"title":null,"orient":"none","legendX":356,"legendY":0,"symbolType":"M-2.65,0H2.65","symbolSize":400,"symbolOffset":14.5,"symbolStrokeWidth":2.5,"labelFontSize":22.5,"labelFont":"Liberation Sans","labelColor":"black","strokeColor":"black","fillColor":"white","padding":5,"rowPadding":5.3,"labelOffset":19.5,"labelLimit":300}},
"detail":{"field":"r","type":"nominal"}}},
{"mark":{"type":"point","opacity":0,"size":1},
"encoding":{
"x":{"field":"t","type":"quantitative","scale":{"domain":[0,100],"nice":false,"zero":false},
"axis":{"orient":"bottom","values":[10,30,50,70,90],"labels":false,"domain":false,"tickSize":4,"title":null}},
"y":{"field":"v","type":"quantitative","scale":{"domain":[-5,25],"nice":false,"zero":false},
"axis":{"orient":"left","values":[-2.5,2.5,7.5,12.5,17.5,22.5],"labels":false,"domain":false,"tickSize":4,"title":null}}}}
],
"resolve":{"axis":{"x":"independent","y":"independent"}}
}
